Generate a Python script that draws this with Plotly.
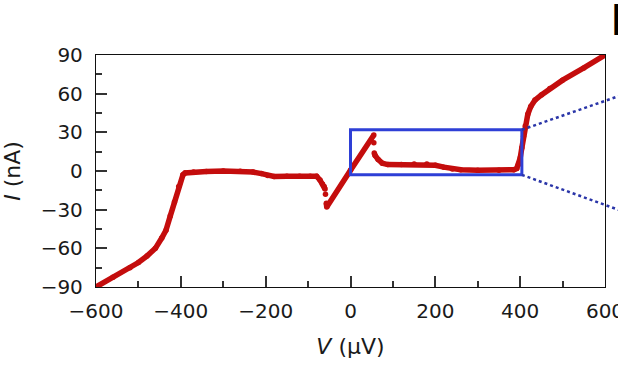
import plotly.graph_objects as go

# Data (V in µV, I in nA); None marks breaks in the trace
V = [-600, -560, -520, -500, -480, -460, -445, -435, -425, -415, -405, -395, -390, -370, -340,
     -300, -260, -230, -210, -195, -180, -150, -120, -95, -80, -72, -66, -62, -60,
     None, -59, None,
     -57, -56, 0, 55,
     None, 55, None,
     56, 58, 65, 75, 88, 120, 150, 180, 200, 220, 240, 260, 300, 350, 385, 392, 396,
     400, 404, 408, 412, 418, 425, 435, 450, 470, 500, 550, 600]
I = [-90, -82.5, -75, -71, -66, -60, -52, -46, -35, -24, -12, -3, -1.5, -0.8, -0.3,
     0, -0.2, -0.8, -2, -3.5, -4.2, -4, -4, -4, -4, -7, -10, -12, -14,
     None, -18, None,
     -25, -28, 0.5, 28,
     None, 22, None,
     14, 12, 9, 6, 5, 5, 5.5, 5.5, 4.5, 3, 1.5, 1, 0.5, 0.5, 1, 2, 5,
     10, 18, 27, 35, 44, 50, 55, 59, 64, 70.5, 80, 90]

x_ticks = [-600, -400, -200, 0, 200, 400, 600]
y_ticks = [-90, -60, -30, 0, 30, 60, 90]
x_range = [-600, 600]
y_range = [-90, 90]

# Zoom box (data units)
box_v = [0, 404]
box_i = [-3, 32]

red = "#c40d0d"
blue = "#2e3fd6"
navy = "#2a35a8"

fig = go.Figure()
fig.add_trace(go.Scatter(
    x=V, y=I, mode="lines+markers",
    line=dict(color=red, width=5.5),
    marker=dict(color=red, size=5.5),
    connectgaps=False, hoverinfo="skip", showlegend=False,
))

fig.add_shape(type="rect", x0=box_v[0], x1=box_v[1], y0=box_i[0], y1=box_i[1],
              xref="x", yref="y", line=dict(color=blue, width=3))

# dotted connectors to the (cropped) inset panel, in paper coordinates
def px(v):
    return (v - x_range[0]) / (x_range[1] - x_range[0])

def py(i):
    return (i - y_range[0]) / (y_range[1] - y_range[0])

fig.add_shape(type="line", xref="paper", yref="paper",
              x0=px(box_v[1]), y0=py(box_i[1]), x1=1.03, y1=0.825,
              line=dict(color=navy, width=2.5, dash="dot"))
fig.add_shape(type="line", xref="paper", yref="paper",
              x0=px(box_v[1]), y0=py(box_i[0]), x1=1.03, y1=0.33,
              line=dict(color=navy, width=2.5, dash="dot"))

font_family = "'DejaVu Sans', Inter, sans-serif"

fig.update_layout(
    width=618, height=368,
    margin=dict(l=96, r=13, t=55, b=81, autoexpand=False),
    paper_bgcolor="white", plot_bgcolor="white",
    font=dict(family=font_family, size=20, color="#1a1a1a"),
    xaxis=dict(
        range=x_range, tickvals=x_ticks, automargin=False,
        ticks="inside", ticklen=11, tickwidth=1.5, tickcolor="#333",
        minor=dict(dtick=100, ticks="inside", ticklen=6, tickwidth=1.5, tickcolor="#333"),
        showline=True, linecolor="#111", linewidth=1.3, mirror=True,
        showgrid=False, zeroline=False,
        ticklabelstandoff=6, ticklabeloverflow="allow",
        title=dict(text="<i>V</i> (µV)", standoff=16, font=dict(size=22)),
        tickfont=dict(size=20),
    ),
    yaxis=dict(
        range=y_range, tickvals=y_ticks, automargin=False,
        ticks="inside", ticklen=11, tickwidth=1.5, tickcolor="#333",
        minor=dict(dtick=15, ticks="inside", ticklen=6, tickwidth=1.5, tickcolor="#333"),
        showline=True, linecolor="#111", linewidth=1.3, mirror=True,
        showgrid=False, zeroline=False,
        ticklabelstandoff=8, ticklabeloverflow="allow",
        title=dict(text="<i>I</i> (nA)", standoff=34, font=dict(size=22)),
        tickfont=dict(size=20),
    ),
)

# cropped panel label of the neighbouring panel
fig.add_annotation(text="<b>b</b>", xref="paper", yref="paper", x=1.007, y=1.04,
                   xanchor="left", yanchor="bottom", showarrow=False,
                   font=dict(size=40, color="#000", family=font_family))

# remove the default 8px page margin so the figure fills the window exactly
fig.write_html("out.html",
               config={"displayModeBar": False},
               post_script="document.body.style.margin='0';document.body.style.overflow='hidden';")
